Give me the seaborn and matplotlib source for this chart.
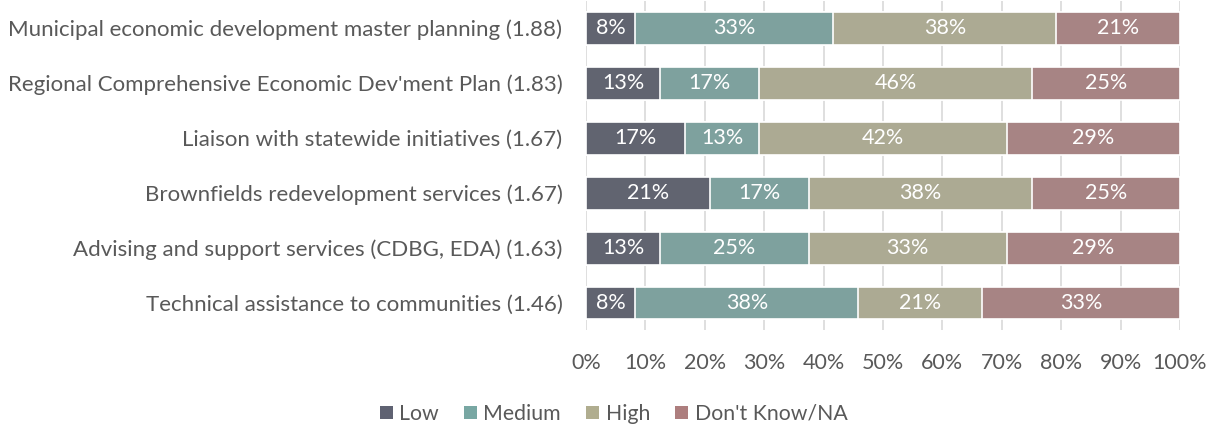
import numpy as np
import pandas as pd
import matplotlib
matplotlib.use("Agg")
import matplotlib.pyplot as plt
import seaborn as sns
from matplotlib.patches import Patch

# ── Data ───────────────────────────────────────────────
categories = [
    "Municipal economic development master planning (1.88)",
    "Regional Comprehensive Economic Dev'ment Plan (1.83)",
    "Liaison with statewide initiatives (1.67)",
    "Brownfields redevelopment services (1.67)",
    "Advising and support services (CDBG, EDA) (1.63)",
    "Technical assistance to communities (1.46)",
]
series = ["Low", "Medium", "High", "Don't Know/NA"]
low = [8.33, 12.5, 16.67, 20.83, 12.5, 8.33]
medium = [33.33, 16.67, 12.5, 16.67, 25.0, 37.5]
high = [37.5, 45.83, 41.67, 37.5, 33.33, 20.83]
dont_know = [20.83, 25.0, 29.17, 25.0, 29.17, 33.33]
colors = ["#5f6272", "#78a7a3", "#b0ad8f", "#ad7e7e"]
xticks = [0, 10, 20, 30, 40, 50, 60, 70, 80, 90, 100]

# ── Style ──────────────────────────────────────────────
sns.set_theme(style="white")
plt.rcParams["font.family"] = ["Lato", "DejaVu Sans"]
text_col = "#595959"

df = pd.DataFrame({"category": categories, "Low": low, "Medium": medium,
                   "High": high, "Don't Know/NA": dont_know})
cum = df[series].cumsum(axis=1)

fig = plt.figure(figsize=(12.15, 4.3), dpi=100)
ax = fig.add_axes([0.4823, 0.2314, 0.9712 - 0.4823, 0.7674])

# draw cumulative totals from the right-most series first so they stack
for s, c in reversed(list(zip(series, colors))):
    sns.barplot(x=cum[s], y=df["category"], color=c, orient="h", width=0.6,
                edgecolor="white", linewidth=1.2, ax=ax, zorder=3)

# ── Segment labels ─────────────────────────────────────
for i in range(len(categories)):
    left = 0
    for s in series:
        v = df[s][i]
        ax.text(left + v / 2, i, f"{int(np.floor(v + 0.5))}%", ha="center",
                va="center", color="white", fontsize=15.5, zorder=5)
        left += v

ax.set_xlim(0, 100)
ax.set_ylim(len(categories) - 0.5, -0.5)
ax.set_xticks(xticks)
ax.set_xticklabels([f"{t}%" for t in xticks])
ax.xaxis.grid(True, color="#d9d9d9", linewidth=1.2, zorder=0)
ax.set_axisbelow(True)
ax.set_xlabel("")
ax.set_ylabel("")
for sp in ax.spines.values():
    sp.set_visible(False)
ax.tick_params(axis="x", labelsize=15.5, colors=text_col, pad=16, length=0)
ax.tick_params(axis="y", labelsize=16, colors=text_col, pad=17, length=0)

handles = [Patch(facecolor=c, edgecolor="none") for c in colors]
fig.legend(handles, series, loc="center", bbox_to_anchor=(0.505, 1 - 414 / 430),
           ncol=4, frameon=False, fontsize=15.3, labelcolor=text_col,
           handlelength=0.6, handleheight=0.6, handletextpad=0.3, columnspacing=1.2)

fig.savefig("out.png", dpi=100)
